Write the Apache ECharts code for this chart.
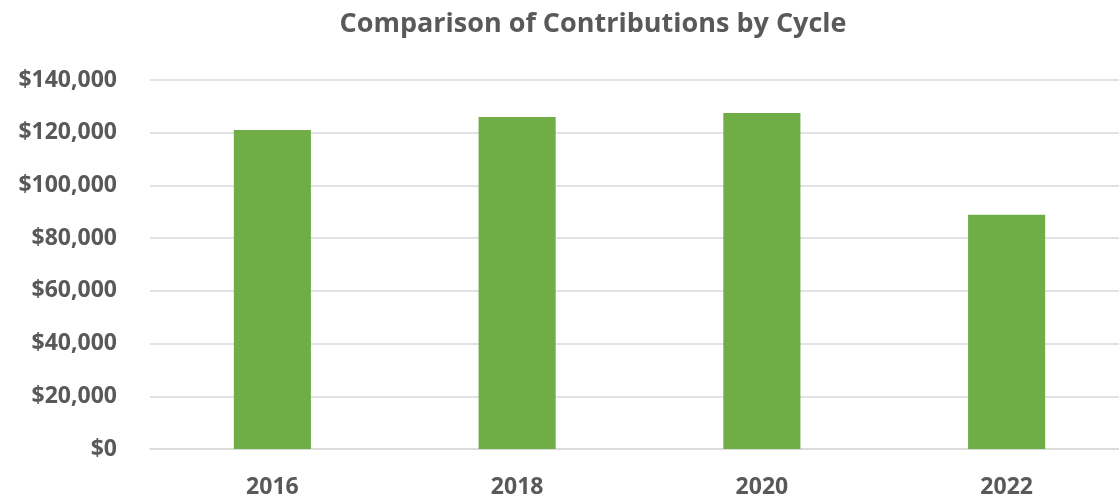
<!DOCTYPE html>
<html>
<head>
<meta charset="utf-8">
<script src="https://cdn.jsdelivr.net/npm/echarts@6/dist/echarts.min.js"></script>
<style>
  html, body { margin: 0; padding: 0; background: #fff; overflow: hidden; }
  #chart { width: 1129px; height: 499px; }
</style>
</head>
<body>
<div id="chart"></div>
<script>
// data
const cycles = ['2016', '2018', '2020', '2022']
const contributions = [121000, 126000, 127500, 88900]

const textColor = '#595959'
const fontFamily = '"Open Sans", "Liberation Sans", sans-serif'

const chart = echarts.init(document.getElementById('chart'))
chart.setOption({
  animation: false,
  title: {
    text: 'Comparison of Contributions by Cycle',
    left: 588,
    top: 6,
    textAlign: 'center',
    textStyle: { color: textColor, fontSize: 27, fontWeight: 'bold', fontFamily: fontFamily }
  },
  grid: {
    left: 150,
    top: 80,
    width: 979,
    height: 370,
    containLabel: false
  },
  xAxis: {
    type: 'category',
    data: cycles,
    axisLine: { show: true, lineStyle: { color: '#d9d9d9', width: 1.5 } },
    axisTick: { show: false },
    axisLabel: {
      color: textColor,
      fontSize: 23,
      fontWeight: 'bold',
      fontFamily: fontFamily,
      margin: 27
    }
  },
  yAxis: {
    type: 'value',
    min: 0,
    max: 140000,
    interval: 20000,
    axisLine: { show: false },
    axisTick: { show: false },
    splitLine: { lineStyle: { color: '#d9d9d9', width: 1.5 } },
    axisLabel: {
      color: textColor,
      fontSize: 23,
      fontWeight: 'bold',
      fontFamily: fontFamily,
      margin: 33,
      formatter: function (v) {
        return '$' + v.toLocaleString('en-US')
      }
    }
  },
  series: [
    {
      type: 'bar',
      data: contributions,
      barWidth: '31.5%',
      itemStyle: { color: '#70ad47' }
    }
  ]
})
</script>
</body>
</html>
